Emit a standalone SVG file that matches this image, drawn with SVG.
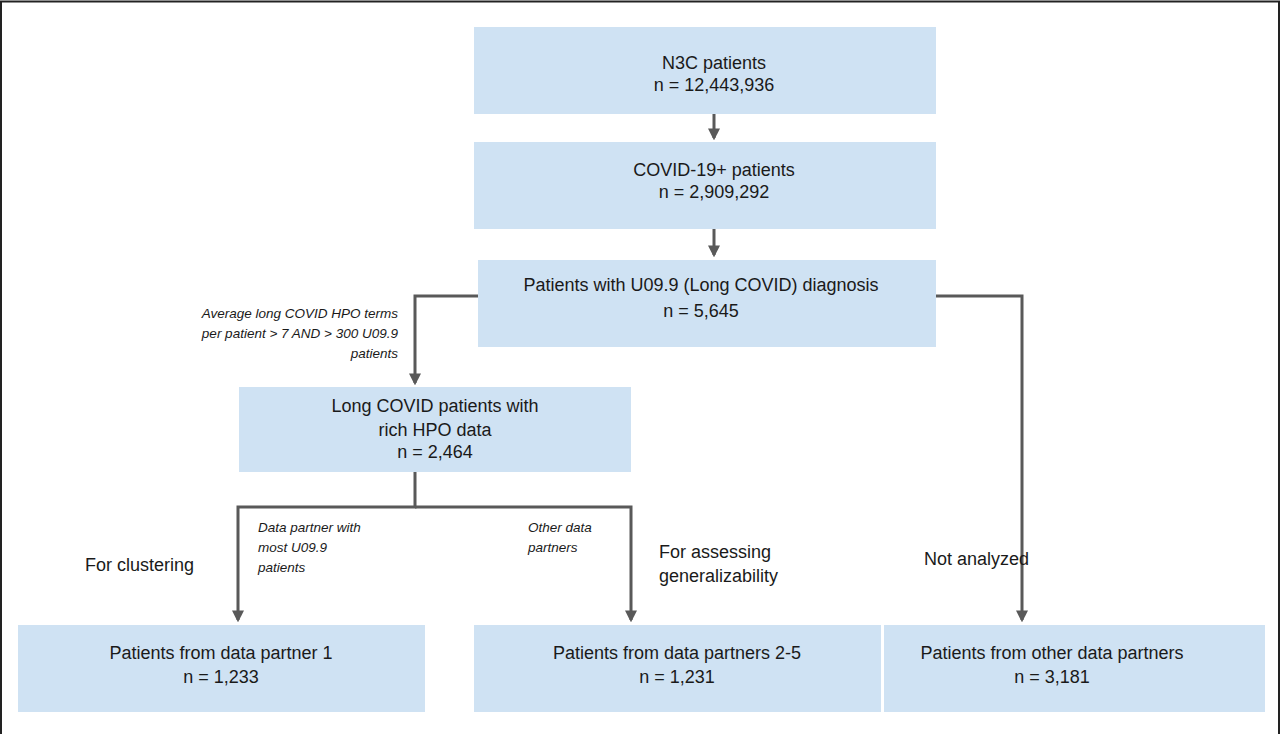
<svg xmlns="http://www.w3.org/2000/svg" width="1280" height="735" viewBox="0 0 1280 735">
<style>
.box{fill:#cfe2f3}
.t{font-family:"Liberation Sans",Arial,sans-serif;font-size:18px;fill:#1a1a1a;text-anchor:middle}
.l{font-family:"Liberation Sans",Arial,sans-serif;font-size:18px;fill:#1a1a1a}
.i{font-family:"Liberation Sans",Arial,sans-serif;font-size:13.5px;font-style:italic;fill:#1a1a1a}
.c{fill:none;stroke:#595959;stroke-width:3}
</style>
<defs><marker id="a" viewBox="0 0 10 10" refX="8" refY="5" markerWidth="4" markerHeight="4" orient="auto"><path d="M0,0L10,5L0,10z" fill="#595959"/></marker></defs>
<rect x="0" y="0" width="1280" height="735" fill="#fff"/>
<path d="M1,734V1.5H1279V734" fill="none" stroke="#222" stroke-width="2"/>
<g id="n1"><rect class="box" x="474" y="27" width="462" height="87"/><text class="t" x="714" y="69">N3C patients</text><text class="t" x="714" y="91">n = 12,443,936</text></g>
<g id="n2"><rect class="box" x="474" y="142" width="462" height="87"/><text class="t" x="714" y="176">COVID-19+ patients</text><text class="t" x="714" y="198">n = 2,909,292</text></g>
<g id="n3"><rect class="box" x="478" y="260" width="458" height="87"/><text class="t" x="701" y="291">Patients with U09.9 (Long COVID) diagnosis</text><text class="t" x="701" y="317">n = 5,645</text></g>
<g id="n4"><rect class="box" x="239" y="387" width="392" height="85"/><text class="t" x="435" y="412">Long COVID patients with</text><text class="t" x="435" y="436">rich HPO data</text><text class="t" x="435" y="458">n = 2,464</text></g>
<g id="n5"><rect class="box" x="18" y="625" width="407" height="87"/><text class="t" x="221" y="659">Patients from data partner 1</text><text class="t" x="221" y="683">n = 1,233</text></g>
<g id="n6"><rect class="box" x="474" y="625" width="407" height="87"/><text class="t" x="677" y="659">Patients from data partners 2-5</text><text class="t" x="677" y="683">n = 1,231</text></g>
<g id="n7"><rect class="box" x="884" y="625" width="381" height="87"/><text class="t" x="1052" y="659">Patients from other data partners</text><text class="t" x="1052" y="683">n = 3,181</text></g>
<g id="connectors">
<path class="c" d="M714,114V138" marker-end="url(#a)"/>
<path class="c" d="M714,229V255" marker-end="url(#a)"/>
<path class="c" d="M478,296H415V383" marker-end="url(#a)"/>
<path class="c" d="M936,296H1022V620" marker-end="url(#a)"/>
<path class="c" d="M415,472V507H238V620" marker-end="url(#a)"/>
<path class="c" d="M415,507H631V620" marker-end="url(#a)"/>
</g>
<g id="labels">
<text class="i" x="398" y="318" text-anchor="end">Average long COVID HPO terms</text>
<text class="i" x="398" y="338" text-anchor="end">per patient &gt; 7 AND &gt; 300 U09.9</text>
<text class="i" x="398" y="358" text-anchor="end">patients</text>
<text class="i" x="258" y="532">Data partner with</text>
<text class="i" x="258" y="552">most U09.9</text>
<text class="i" x="258" y="572">patients</text>
<text class="i" x="528" y="532">Other data</text>
<text class="i" x="528" y="552">partners</text>
<text class="l" x="85" y="571">For clustering</text>
<text class="l" x="659" y="558">For assessing</text>
<text class="l" x="659" y="582">generalizability</text>
<text class="l" x="924" y="565">Not analyzed</text>
</g>
</svg>
